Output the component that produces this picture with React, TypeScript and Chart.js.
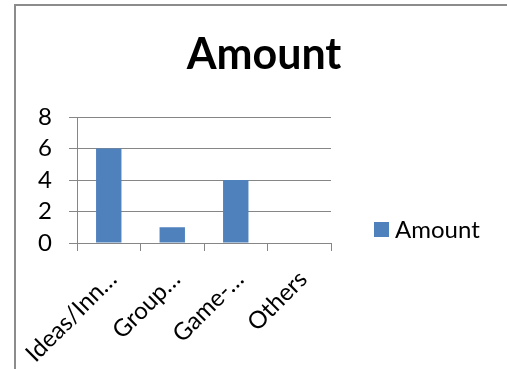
import React, { useEffect, useRef } from "react";
import { Chart, registerables } from "chart.js";

Chart.register(...registerables);

const categories = ["Ideas/Inn…", "Group…", "Game-…", "Others"];
const amounts = [6, 1, 4, 0];
const seriesName = "Amount";
const titleText = "Amount";
const yMin = 0;
const yMax = 8;
const yStep = 2;

const BAR = "#4F81BD";
const GRID = "#868686";
const FONT = "Lato";

const textPlugin = {
  id: "titleAndLegend",
  afterDraw(chart: any) {
    const ctx = chart.ctx;
    ctx.save();
    // title
    ctx.fillStyle = "#000";
    ctx.font = `bold 43px ${FONT}`;
    ctx.textBaseline = "middle";
    ctx.textAlign = "center";
    ctx.fillText(titleText, 248, 49);
    // legend
    ctx.fillStyle = BAR;
    ctx.fillRect(358, 216, 15, 15);
    ctx.fillStyle = "#000";
    ctx.font = `24px ${FONT}`;
    ctx.textBaseline = "middle";
    ctx.textAlign = "left";
    ctx.fillText(seriesName, 379, 224);
    ctx.restore();
  },
};

export default function App() {
  const ref = useRef<HTMLCanvasElement | null>(null);

  useEffect(() => {
    if (!ref.current) return;
    const chart = new Chart(ref.current, {
      type: "bar",
      data: {
        labels: categories,
        datasets: [
          {
            label: seriesName,
            data: amounts,
            backgroundColor: BAR,
            borderWidth: 0,
            barPercentage: 0.4,
            categoryPercentage: 1,
          },
        ],
      },
      options: {
        animation: false,
        responsive: false,
        maintainAspectRatio: false,
        devicePixelRatio: 1,
        layout: { padding: { left: 0, right: 181, top: 111, bottom: 0 } },
        plugins: {
          legend: { display: false },
          tooltip: { enabled: false },
          title: { display: false },
        },
        scales: {
          x: {
            grid: {
              display: true,
              drawOnChartArea: false,
              drawTicks: true,
              tickLength: 8,
              color: GRID,
              lineWidth: 1,
              offset: true,
            },
            border: { display: true, color: GRID, width: 1 },
            ticks: {
              autoSkip: false,
              maxRotation: 45,
              minRotation: 45,
              padding: 14,
              labelOffset: 4,
              color: "#000",
              font: { family: FONT, size: 24 },
            },
            afterFit: (scale: any) => {
              scale.height = 126;
              scale.paddingLeft = 0;
              scale.paddingRight = 0;
            },
          },
          y: {
            min: yMin,
            max: yMax,
            ticks: {
              stepSize: yStep,
              autoSkip: false,
              padding: 17,
              color: "#000",
              font: { family: FONT, size: 24 },
            },
            grid: {
              color: GRID,
              lineWidth: 1,
              tickLength: 8,
              drawTicks: true,
            },
            border: { display: true, color: GRID, width: 1 },
            afterFit: (scale: any) => {
              scale.width = 61;
              scale.paddingTop = 0;
              scale.paddingBottom = 0;
            },
          },
        },
      },
      plugins: [textPlugin],
    });
    return () => chart.destroy();
  }, []);

  return (
    <div
      style={{
        position: "fixed",
        left: 0,
        top: 0,
        width: 507,
        height: 369,
        overflow: "hidden",
        background: "#fff",
      }}
    >
      <div
        style={{
          position: "absolute",
          left: 14,
          top: 4,
          width: 600,
          height: 500,
          borderTop: "2px solid #8c8c8c",
          borderLeft: "2px solid #8c8c8c",
        }}
      />
      <canvas
        ref={ref}
        width={496}
        height={363}
        style={{ position: "absolute", left: 16, top: 6, width: 496, height: 363 }}
      />
    </div>
  );
}
